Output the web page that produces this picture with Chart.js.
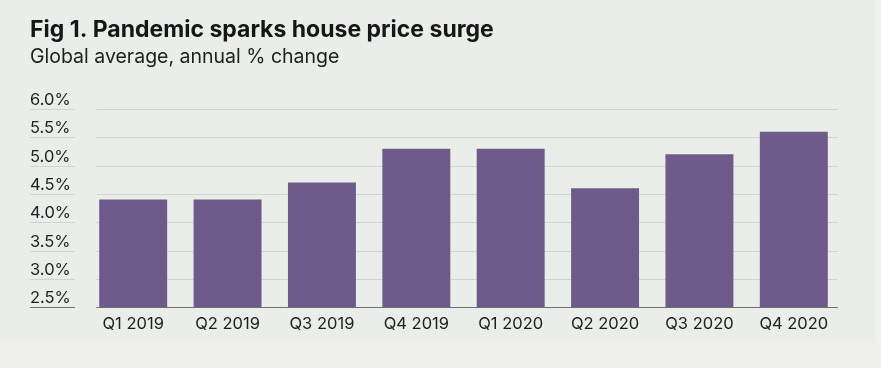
<!DOCTYPE html>
<html>
<head>
<meta charset="utf-8">
<script src="https://cdn.jsdelivr.net/npm/chart.js@4.4.1/dist/chart.umd.min.js"></script>
<style>
  html, body { margin: 0; padding: 0; background: #f0f0ef; width: 881px; height: 368px; overflow: hidden; }
  #card { position: absolute; left: 0; top: 0; width: 875px; height: 343px; background: #e9eee9; }
  canvas { display: block; }
</style>
</head>
<body>
<div id="card"><canvas id="c" width="875" height="343"></canvas></div>
<script>
const categories = ["Q1 2019", "Q2 2019", "Q3 2019", "Q4 2019", "Q1 2020", "Q2 2020", "Q3 2020", "Q4 2020"];
const priceChange = [4.4, 4.4, 4.7, 5.3, 5.3, 4.6, 5.2, 5.6];
const yTicks = [2.5, 3.0, 3.5, 4.0, 4.5, 5.0, 5.5, 6.0];
const titleText = "Fig 1. Pandemic sparks house price surge";
const subtitleText = "Global average, annual % change";

const FONT = "Inter, 'Liberation Sans', sans-serif";
const textColor = "#1f1f1f";

const gridPlugin = {
  id: "customGrid",
  beforeDatasetsDraw(chart) {
    const ctx = chart.ctx;
    const y = chart.scales.y;
    const x = chart.scales.x;
    const gx1 = x.getPixelForValue(0) - 37;
    const gx2 = x.getPixelForValue(categories.length - 1) + 44;
    ctx.save();
    yTicks.forEach((v, i) => {
      const py = Math.round(y.getPixelForValue(v)) + 0.5;
      ctx.strokeStyle = i === 0 ? "#6f726f" : "#d0d5d0";
      ctx.lineWidth = 1;
      ctx.beginPath();
      ctx.moveTo(gx1, py); ctx.lineTo(gx2, py);
      ctx.moveTo(30, py); ctx.lineTo(75, py);
      ctx.stroke();
    });
    ctx.restore();
  }
};

new Chart(document.getElementById("c"), {
  type: "bar",
  data: {
    labels: categories,
    datasets: [{
      data: priceChange,
      backgroundColor: "#6e5b8b",
      borderWidth: 0,
      categoryPercentage: 1.0,
      barPercentage: 0.72
    }]
  },
  options: {
    responsive: false,
    animation: false,
    layout: { padding: { left: 30, right: 34, top: 6, bottom: 2 } },
    plugins: {
      legend: { display: false },
      tooltip: { enabled: false },
      title: {
        display: true, text: titleText, align: "start", color: "#161616",
        font: { family: FONT, size: 23, weight: "bold" },
        padding: { top: 10, bottom: 2 }
      },
      subtitle: {
        display: true, text: subtitleText, align: "start", color: textColor,
        font: { family: FONT, size: 19.5, weight: "normal" },
        padding: { top: 0, bottom: 40 }
      }
    },
    scales: {
      x: {
        grid: { display: false, drawTicks: false },
        border: { display: false },
        ticks: { color: textColor, font: { family: FONT, size: 16.5 }, padding: 7, maxRotation: 0 }
      },
      y: {
        min: 2.5, max: 6.0,
        afterFit(scale) { scale.width = 56; },
        afterBuildTicks(scale) { scale.ticks = yTicks.map(v => ({ value: v })); },
        grid: { display: false, drawTicks: false },
        border: { display: false },
        ticks: {
          color: textColor, font: { family: FONT, size: 16.5 },
          crossAlign: "far", padding: 0, labelOffset: -9,
          callback: v => Number(v).toFixed(1) + "%"
        }
      }
    }
  },
  plugins: [gridPlugin]
});
</script>
</body>
</html>
